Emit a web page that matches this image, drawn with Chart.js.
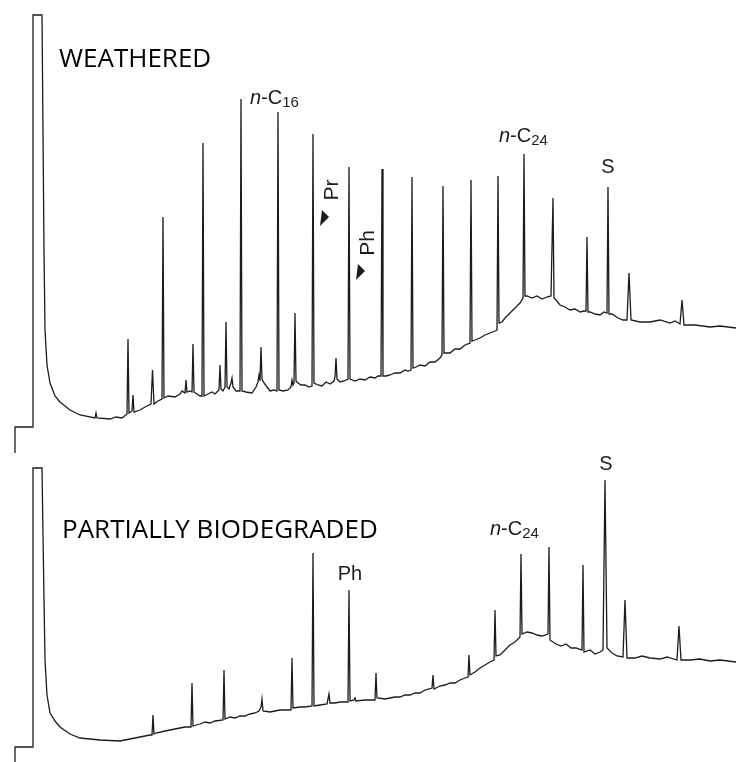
<!DOCTYPE html>
<html>
<head>
<meta charset="utf-8">
<script src="https://cdn.jsdelivr.net/npm/chart.js@4/dist/chart.umd.min.js"></script>
<style>
  html, body { margin: 0; padding: 0; background: #fff; }
  #wrap { position: relative; width: 736px; height: 762px; }
</style>
</head>
<body>
<div id="wrap"><canvas id="gc" width="736" height="762"></canvas></div>
<script>
// retention time (min) vs detector signal
const weatheredTrace = [
  [1.5, -26], [1.5, 0], [3.3, 0], [3.3, 412], [4.2, 412], [4.4, 177], [4.5, 97], [4.7, 62],
  [5.0, 44], [5.5, 31], [6.0, 25], [7.0, 17], [8.0, 12], [9.5, 9], [9.6, 14], [9.7, 9],
  [11.0, 8], [11.6, 10], [12.2, 9], [12.7, 13], [12.8, 88], [12.9, 14], [13.2, 16], [13.3, 32],
  [13.4, 15], [14.0, 17], [14.5, 20], [15.1, 23], [15.25, 57], [15.4, 23], [15.8, 26], [16.2, 28],
  [16.3, 210], [16.4, 29], [16.8, 31], [17.5, 30], [18.0, 33], [18.2, 36], [18.5, 34], [18.6, 47],
  [18.7, 35], [19.0, 36], [19.2, 35], [19.3, 83], [19.4, 35], [19.7, 33], [20.0, 31], [20.2, 31],
  [20.3, 284], [20.4, 31], [20.8, 33], [21.2, 35], [21.5, 33], [21.9, 37], [22.0, 62], [22.1, 38],
  [22.3, 36], [22.5, 40], [22.6, 105], [22.7, 40], [22.9, 38], [23.1, 44], [23.2, 49], [23.3, 40],
  [23.6, 36], [24.0, 36], [24.1, 328], [24.2, 36], [24.6, 35], [25.2, 34], [25.6, 40], [25.8, 45],
  [25.9, 52], [26.0, 46], [26.1, 80], [26.2, 48], [26.4, 44], [26.7, 40], [27.0, 36], [27.4, 37],
  [27.7, 36], [27.8, 315], [27.9, 37], [28.3, 36], [28.8, 37], [29.1, 40], [29.2, 47], [29.3, 42],
  [29.4, 44], [29.5, 114], [29.6, 46], [29.8, 44], [30.1, 42], [30.5, 42], [30.9, 40], [31.2, 41],
  [31.3, 293], [31.4, 44], [31.8, 42], [32.2, 41], [32.6, 45], [33.0, 43], [33.4, 46], [33.5, 50],
  [33.6, 69], [33.7, 48], [34.0, 45], [34.4, 46], [34.8, 48], [34.9, 260], [35.0, 48], [35.5, 46],
  [36.0, 48], [36.5, 47], [37.0, 50], [37.5, 49], [37.8, 51], [38.1, 51], [38.2, 258], [38.3, 51],
  [38.6, 51], [39.0, 52], [39.5, 54], [40.0, 54], [40.5, 57], [40.8, 56], [41.1, 57], [41.2, 250],
  [41.3, 59], [41.6, 60], [42.0, 62], [42.5, 61], [43.0, 65], [43.5, 65], [44.0, 69], [44.2, 72],
  [44.3, 241], [44.4, 74], [45.0, 74], [45.5, 78], [46.0, 78], [46.5, 82], [47.0, 84], [47.1, 247],
  [47.2, 86], [47.5, 87], [48.0, 89], [48.5, 92], [49.0, 94], [49.5, 96], [49.7, 97], [49.8, 251],
  [49.9, 104], [50.2, 105], [50.5, 109], [51.0, 114], [51.5, 119], [52.0, 124], [52.3, 129], [52.4, 273],
  [52.5, 131], [52.7, 131], [53.2, 129], [53.7, 131], [54.2, 128], [54.7, 130], [55.1, 131], [55.3, 229],
  [55.4, 129], [55.6, 127], [56.0, 122], [56.5, 120], [57.0, 117], [57.5, 118], [58.0, 115], [58.4, 116],
  [58.6, 116], [58.7, 190], [58.8, 115], [59.0, 115], [59.5, 113], [60.0, 112], [60.4, 115], [60.7, 114],
  [60.8, 240], [60.9, 113], [61.2, 113], [61.8, 109], [62.3, 107], [62.7, 107], [62.9, 154], [63.1, 107],
  [64.0, 105], [65.0, 105], [66.0, 107], [67.0, 104], [67.5, 106], [68.0, 103], [68.2, 127], [68.4, 102],
  [69.5, 102], [71.0, 100], [72.0, 101], [73.6, 99]
];

const biodegradedTrace = [
  [1.5, -15], [1.5, 0], [3.3, 0], [3.3, 279], [4.2, 279], [4.4, 147], [4.5, 87], [4.7, 52],
  [5.0, 34], [5.5, 26], [6.0, 20], [7.0, 13], [8.0, 9], [10.0, 7], [12.0, 6], [13.0, 8],
  [14.0, 10], [15.0, 12], [15.2, 12], [15.3, 32], [15.4, 13], [15.6, 14], [16.5, 16], [17.5, 18],
  [18.5, 20], [19.1, 20], [19.2, 64], [19.3, 21], [20.0, 23], [20.5, 25], [21.0, 24], [21.5, 26],
  [22.3, 27], [22.4, 77], [22.5, 28], [23.0, 30], [23.5, 29], [24.0, 31], [24.5, 31], [25.0, 33],
  [25.5, 34], [25.9, 36], [26.1, 40], [26.2, 48], [26.3, 36], [27.0, 35], [27.5, 36], [28.0, 37],
  [28.5, 37], [29.1, 37], [29.2, 89], [29.3, 39], [30.0, 40], [30.5, 40], [31.2, 41], [31.3, 194],
  [31.4, 41], [32.0, 42], [32.7, 43], [32.9, 53], [33.0, 44], [33.5, 44], [34.0, 45], [34.8, 45],
  [34.9, 157], [35.0, 46], [35.4, 47], [35.5, 49], [35.6, 46], [36.5, 47], [37.5, 47], [37.6, 74],
  [37.7, 49], [38.5, 48], [39.0, 49], [39.5, 50], [40.0, 50], [40.5, 52], [41.0, 52], [41.5, 54],
  [42.0, 54], [42.5, 57], [43.2, 59], [43.3, 72], [43.4, 58], [44.0, 61], [44.5, 62], [45.0, 64],
  [45.5, 64], [46.0, 67], [46.5, 69], [46.8, 70], [46.9, 92], [47.0, 72], [47.5, 75], [48.0, 79],
  [48.5, 82], [49.0, 85], [49.4, 87], [49.5, 137], [49.6, 91], [50.0, 92], [50.5, 97], [51.0, 102],
  [51.5, 105], [52.0, 110], [52.1, 193], [52.2, 113], [52.7, 115], [53.2, 114], [53.7, 112], [54.2, 111],
  [54.8, 113], [54.9, 200], [55.0, 107], [55.6, 103], [56.1, 101], [56.6, 103], [57.1, 99], [57.6, 99],
  [58.2, 97], [58.3, 182], [58.4, 95], [59.0, 97], [59.5, 93], [60.0, 95], [60.3, 97], [60.5, 267],
  [60.7, 99], [61.2, 94], [61.7, 91], [62.3, 90], [62.5, 147], [62.7, 89], [63.5, 89], [64.2, 91],
  [65.0, 89], [66.0, 88], [66.7, 90], [67.7, 87], [67.9, 121], [68.1, 87], [69.0, 87], [70.0, 88],
  [71.0, 86], [72.0, 87], [73.6, 85]
];

const panelTitles = ['WEATHERED', 'PARTIALLY BIODEGRADED'];
const titleAnchors = [[5.9, 360], [6.2, 209]];

// peak labels: text, subscript, axis, time, signal at text baseline
const peakLabels = [
  { text: 'n-C', sub: '16', axis: 'yTop', t: 25.0, v: 323 },
  { text: 'n-C', sub: '24', axis: 'yTop', t: 49.9, v: 285 },
  { text: 'S', axis: 'yTop', t: 60.8, v: 254, center: true },
  { text: 'Ph', axis: 'yBot', t: 35.0, v: 167, center: true },
  { text: 'n-C', sub: '24', axis: 'yBot', t: 49.0, v: 212 },
  { text: 'S', axis: 'yBot', t: 60.6, v: 277, center: true }
];
// rotated labels with arrow pointing at the isoprenoid peak
const arrowLabels = [
  { text: 'Pr', t: 33.2, v: 237, tipT: 32.0, tipV: 201 },
  { text: 'Ph', t: 36.8, v: 184, tipT: 35.6, tipV: 147 }
];

const ink = '#1c1c1c';

const labelPlugin = {
  id: 'labels',
  afterDatasetsDraw(chart) {
    const ctx = chart.ctx;
    const x = chart.scales.x;
    ctx.save();
    ctx.fillStyle = '#000';
    ctx.textBaseline = 'alphabetic';
    ctx.textAlign = 'left';
    ctx.font = '26px "Open Sans"';
    panelTitles.forEach((s, i) => {
      const ax = i === 0 ? chart.scales.yTop : chart.scales.yBot;
      ctx.fillText(s, x.getPixelForValue(titleAnchors[i][0]), ax.getPixelForValue(titleAnchors[i][1]));
    });

    ctx.fillStyle = ink;
    peakLabels.forEach(l => {
      let px = x.getPixelForValue(l.t);
      const py = chart.scales[l.axis].getPixelForValue(l.v);
      if (l.sub) {
        ctx.font = 'italic 20px "Liberation Sans"';
        ctx.fillText('n', px, py);
        px += ctx.measureText('n').width;
        ctx.font = '20px "Liberation Sans"';
        ctx.fillText('-C', px, py);
        px += ctx.measureText('-C').width;
        ctx.font = '15px "Liberation Sans"';
        ctx.fillText(l.sub, px, py + 3);
      } else {
        ctx.font = '20px "Liberation Sans"';
        ctx.textAlign = l.center ? 'center' : 'left';
        ctx.fillText(l.text, px, py);
        ctx.textAlign = 'left';
      }
    });

    arrowLabels.forEach(l => {
      const px = x.getPixelForValue(l.t);
      const py = chart.scales.yTop.getPixelForValue(l.v);
      ctx.save();
      ctx.translate(px, py);
      ctx.rotate(-Math.PI / 2);
      ctx.font = '21px "Liberation Sans"';
      ctx.textAlign = 'center';
      ctx.textBaseline = 'middle';
      ctx.fillText(l.text, 0, 0);
      ctx.restore();
      const tx = x.getPixelForValue(l.tipT);
      const ty = chart.scales.yTop.getPixelForValue(l.tipV);
      ctx.beginPath();
      ctx.moveTo(tx, ty);
      ctx.lineTo(tx + 2, ty - 16);
      ctx.lineTo(tx + 9, ty - 9);
      ctx.closePath();
      ctx.fill();
    });
    ctx.restore();
  }
};

new Chart(document.getElementById('gc'), {
  type: 'line',
  data: {
    datasets: [
      { data: weatheredTrace.map(p => ({ x: p[0], y: p[1] })), yAxisID: 'yTop' },
      { data: biodegradedTrace.map(p => ({ x: p[0], y: p[1] })), yAxisID: 'yBot' }
    ]
  },
  options: {
    responsive: false,
    animation: false,
    layout: { padding: 0 },
    elements: {
      line: { borderColor: ink, borderWidth: 1.3, tension: 0, borderJoinStyle: 'miter' },
      point: { radius: 0 }
    },
    plugins: { legend: { display: false }, tooltip: { enabled: false } },
    scales: {
      x: { type: 'linear', min: 0, max: 73.6, display: false },
      yTop: { type: 'linear', min: -335, max: 427, display: false },
      yBot: { type: 'linear', min: -15, max: 747, display: false }
    }
  },
  plugins: [labelPlugin]
});
</script>
</body>
</html>
